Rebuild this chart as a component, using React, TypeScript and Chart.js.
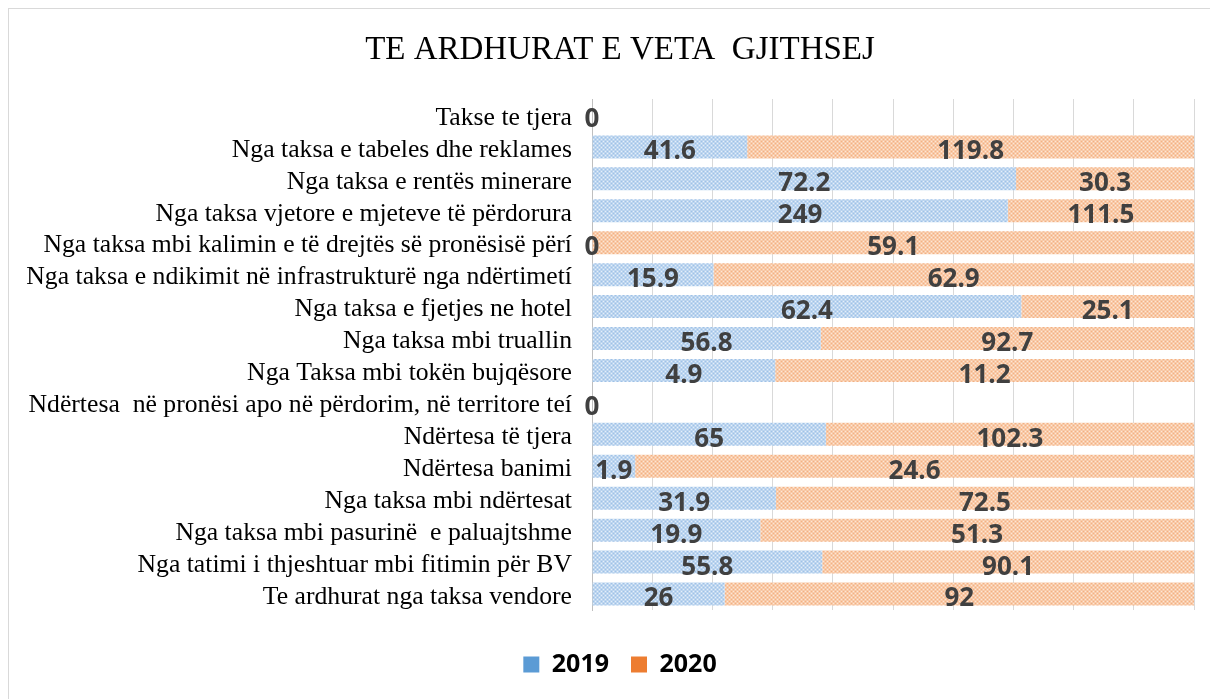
import React, { useEffect, useRef } from "react";
import { Chart, registerables } from "chart.js";

Chart.register(...registerables);

const titleText = "TE ARDHURAT E VETA  GJITHSEJ";

const categories = [
  "Takse te tjera",
  "Nga taksa e tabeles dhe reklames",
  "Nga taksa e rentës minerare",
  "Nga taksa vjetore e mjeteve të përdorura",
  "Nga taksa mbi kalimin e të drejtës së pronësisë përí",
  "Nga taksa e ndikimit në infrastrukturë nga ndërtimetí",
  "Nga taksa e fjetjes ne hotel",
  "Nga taksa mbi truallin",
  "Nga Taksa mbi tokën bujqësore",
  "Ndërtesa  në pronësi apo në përdorim, në territore teí",
  "Ndërtesa të tjera",
  "Ndërtesa banimi",
  "Nga taksa mbi ndërtesat",
  "Nga taksa mbi pasurinë  e paluajtshme",
  "Nga tatimi i thjeshtuar mbi fitimin për BV",
  "Te ardhurat nga taksa vendore",
];

const seriesNames = ["2019", "2020"];

const values2019 = [0, 41.6, 72.2, 249, 0, 15.9, 62.4, 56.8, 4.9, 0, 65, 1.9, 31.9, 19.9, 55.8, 26];
const values2020 = [0, 119.8, 30.3, 111.5, 59.1, 62.9, 25.1, 92.7, 11.2, 0, 102.3, 24.6, 72.5, 51.3, 90.1, 92];

const axisMax = 100;
const axisStep = 10;

function makePattern(base: string, dot: string, light: string): CanvasPattern | string {
  const c = document.createElement("canvas");
  c.width = 4;
  c.height = 4;
  const g = c.getContext("2d");
  if (!g) return base;
  g.fillStyle = base;
  g.fillRect(0, 0, 4, 4);
  g.fillStyle = dot;
  g.fillRect(0, 0, 1, 1);
  g.fillRect(2, 2, 1, 1);
  g.fillStyle = light;
  g.fillRect(2, 0, 1, 1);
  g.fillRect(0, 2, 1, 1);
  const p = g.createPattern(c, "repeat");
  return p || base;
}

export default function App() {
  const ref = useRef<HTMLCanvasElement | null>(null);

  useEffect(() => {
    document.documentElement.style.overflow = "hidden";
    document.body.style.overflow = "hidden";
    const canvas = ref.current;
    if (!canvas) return;

    const totals = values2019.map((v, i) => v + values2020[i]);
    const share2019 = values2019.map((v, i) => (totals[i] ? (v / totals[i]) * 100 : 0));
    const share2020 = values2020.map((v, i) => (totals[i] ? (v / totals[i]) * 100 : 0));
    const rawValues = [values2019, values2020];

    const bluePattern = makePattern("#bcd5ef", "#9fc1e7", "#e4eef9");
    const orangePattern = makePattern("#f8caa8", "#f3b083", "#fde6d6");
    const legendColors = ["#5b9bd5", "#ed7d31"];

    const valueLabels = {
      id: "valueLabels",
      afterDatasetsDraw(chart: any) {
        const ctx = chart.ctx;
        ctx.save();
        ctx.font = "bold 26px 'Open Sans'";
        ctx.fillStyle = "#404040";
        ctx.textAlign = "center";
        ctx.textBaseline = "middle";
        chart.data.datasets.forEach((_ds: any, di: number) => {
          const meta = chart.getDatasetMeta(di);
          meta.data.forEach((el: any, i: number) => {
            const v = rawValues[di][i];
            if (di === 1 && v === 0 && rawValues[0][i] === 0) return;
            const p = el.getProps(["x", "y", "base"], true);
            ctx.fillText(String(v), (p.x + p.base) / 2, p.y + 5);
          });
        });
        ctx.restore();
      },
    };

    const chart = new Chart(canvas, {
      type: "bar",
      data: {
        labels: categories,
        datasets: [
          {
            label: seriesNames[0],
            data: share2019,
            backgroundColor: bluePattern as any,
            borderWidth: 0,
            barPercentage: 0.72,
            categoryPercentage: 1,
          },
          {
            label: seriesNames[1],
            data: share2020,
            backgroundColor: orangePattern as any,
            borderWidth: 0,
            barPercentage: 0.72,
            categoryPercentage: 1,
          },
        ],
      },
      options: {
        indexAxis: "y",
        animation: false,
        responsive: false,
        maintainAspectRatio: false,
        layout: { padding: { top: 0, left: 13, right: 0, bottom: 12 } },
        scales: {
          x: {
            stacked: true,
            min: 0,
            max: axisMax,
            ticks: { display: false, stepSize: axisStep },
            grid: { color: "#d9d9d9", lineWidth: 1, drawTicks: false },
            border: { display: false },
            afterFit(scale: any) {
              scale.height = 20;
              scale.paddingRight = 24;
            },
          },
          y: {
            stacked: true,
            grid: { display: false, drawTicks: false },
            border: { display: true, color: "#bfbfbf", width: 1 },
            ticks: {
              autoSkip: false,
              padding: 20,
              labelOffset: 3,
              color: "#000000",
              font: { family: "'Liberation Serif'", size: 25.7 },
            },
            afterFit(scale: any) {
              scale.width = 570;
            },
          },
        },
        plugins: {
          title: {
            display: true,
            text: titleText,
            color: "#000000",
            font: { family: "'Liberation Serif'", size: 33, weight: "normal" },
            padding: { top: 21.5, bottom: 28.9 },
          },
          legend: {
            display: true,
            position: "bottom",
            labels: {
              boxWidth: 16,
              boxHeight: 16,
              padding: 22,
              color: "#000000",
              font: { family: "'Open Sans'", size: 25, weight: "bold" },
              generateLabels(chart: any) {
                return chart.data.datasets.map((ds: any, i: number) => ({
                  text: ds.label,
                  fillStyle: legendColors[i],
                  strokeStyle: legendColors[i],
                  lineWidth: 0,
                  hidden: false,
                  datasetIndex: i,
                  fontColor: "#000000",
                }));
              },
            },
          },
          tooltip: { enabled: false },
        },
      },
      plugins: [valueLabels],
    });

    return () => {
      chart.destroy();
    };
  }, []);

  return (
    <div
      style={{
        width: 1209,
        height: 690,
        borderLeft: "1px solid #d9d9d9",
        borderTop: "1px solid #d9d9d9",
        background: "#ffffff",
      }}
    >
      <canvas ref={ref} width={1209} height={690} style={{ display: "block", width: 1209, height: 690 }} />
    </div>
  );
}
